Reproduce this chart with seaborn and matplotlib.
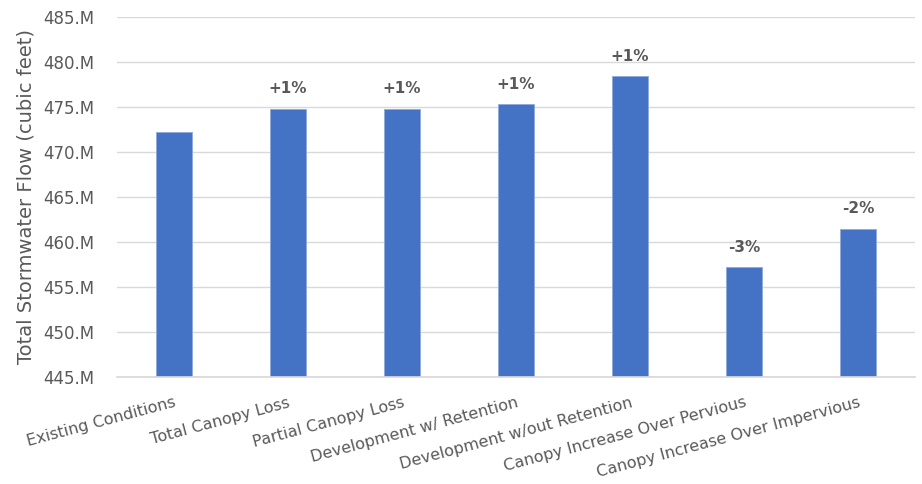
import matplotlib
matplotlib.use("Agg")
import matplotlib.pyplot as plt
import seaborn as sns
import pandas as pd
from matplotlib.ticker import FixedLocator, FuncFormatter

categories = ["Existing Conditions", "Total Canopy Loss", "Partial Canopy Loss",
              "Development w/ Retention", "Development w/out Retention",
              "Canopy Increase Over Pervious", "Canopy Increase Over Impervious"]
flow_millions = [472.2, 474.8, 474.8, 475.3, 478.4, 457.2, 461.5]
pct_labels = ["", "+1%", "+1%", "+1%", "+1%", "-3%", "-2%"]
y_ticks = [445, 450, 455, 460, 465, 470, 475, 480, 485]

df = pd.DataFrame({"scenario": categories, "flow": flow_millions})

sns.set_theme(style="white")
plt.rcParams['font.family'] = ['DejaVu Sans']

fig = plt.figure(figsize=(9.22, 4.84), dpi=100)
ax = fig.add_axes([117/922, 1 - 377/484, 798/922, 360/484])

sns.barplot(data=df, x="scenario", y="flow", color="#4472C4", width=0.32,
            saturation=1, ax=ax, edgecolor="#8FAADC", linewidth=0.6)

ax.set_ylim(445, 485)
ax.yaxis.set_major_locator(FixedLocator(y_ticks))
ax.yaxis.set_major_formatter(FuncFormatter(lambda v, p: f"{int(round(v))}.M"))
ax.grid(axis="y", color="#D9D9D9", linewidth=1)
ax.set_axisbelow(True)
for s in ["top", "right", "left"]:
    ax.spines[s].set_visible(False)
ax.spines["bottom"].set_color("#D9D9D9")

ax.set_xlabel("")
ax.set_ylabel("Total Stormwater Flow (cubic feet)", fontsize=14, color="#595959", labelpad=6)
ax.tick_params(axis="y", labelsize=12, labelcolor="#595959", length=0, pad=16)
ax.tick_params(axis="x", labelsize=11.5, labelcolor="#595959", length=0, pad=13)
plt.setp(ax.get_xticklabels(), rotation=15, ha="right", rotation_mode="anchor")

for i, (v, t) in enumerate(zip(flow_millions, pct_labels)):
    if t:
        ax.annotate(t, (i, v), xytext=(0, 9), textcoords="offset points",
                    ha="center", va="bottom", fontsize=11, fontweight="bold", color="#595959")

fig.savefig("out.png", dpi=100)
